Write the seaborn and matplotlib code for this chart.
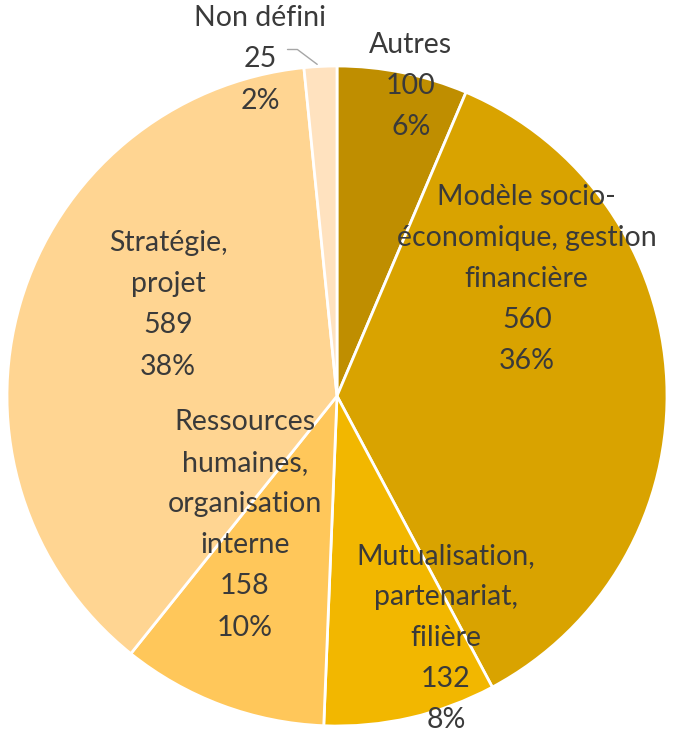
import matplotlib
matplotlib.use("Agg")
import matplotlib.pyplot as plt
import seaborn as sns
import numpy as np

sns.set_theme(style="white")
plt.rcParams["font.family"] = ["Lato", "DejaVu Sans"]

# -----------------------------------------------------------------------------
# Data
# -----------------------------------------------------------------------------
categories = ["Autres", "Modèle socio-\néconomique, gestion\nfinancière",
              "Mutualisation,\npartenariat,\nfilière",
              "Ressources\nhumaines,\norganisation\ninterne",
              "Stratégie,\nprojet", "Non défini"]
values = [100, 560, 132, 158, 589, 25]
colors = ["#BF8E00", "#D9A300", "#F2B700", "#FFC75A", "#FFD592", "#FFE2BF"]

# label centres (in pie radius units), as placed by the original chart
label_pos = [(0.224, 0.94), (0.575, 0.355), (0.33, -0.733),
             (-0.279, -0.39), (-0.512, 0.276), (-0.233, 1.02)]

total = sum(values)

# -----------------------------------------------------------------------------
# Plot
# -----------------------------------------------------------------------------
fig = plt.figure(figsize=(6.75, 7.39), dpi=100)
ax = fig.add_axes([7 / 675, 13 / 739, 660 / 675, 660 / 739])
ax.pie(values, colors=colors, startangle=90, counterclock=False,
       wedgeprops=dict(edgecolor="white", linewidth=2), radius=1)
ax.set_xlim(-1, 1)
ax.set_ylim(-1, 1)
ax.set_aspect("equal")
ax.axis("off")

for cat, val, (x, y) in zip(categories, values, label_pos):
    pct = round(val / total * 100)
    ax.text(x, y, f"{cat}\n{val}\n{pct}%", ha="center", va="center",
            fontsize=20.5, color="#3A3A3A", linespacing=1.72, clip_on=False)

# leader line for "Non défini"
ax.plot([-0.15, -0.12, -0.06], [1.05, 1.05, 1.005], color="#A6A6A6", lw=1,
        clip_on=False)

fig.savefig("out.png", dpi=100)
